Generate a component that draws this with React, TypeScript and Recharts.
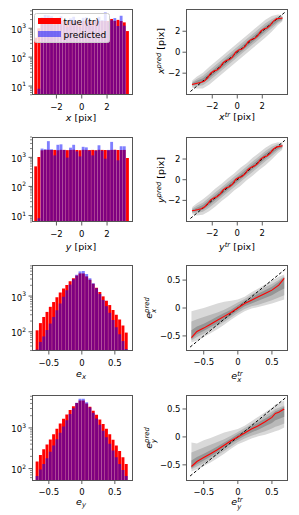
import React from 'react';
import { ComposedChart, Bar, Area, Line, XAxis, YAxis } from 'recharts';

const FONT = '"DejaVu Sans", Verdana, sans-serif';

// ---------------- histogram data ----------------
const XY_BINS = [-3.625, -3.375, -3.125, -2.875, -2.625, -2.375, -2.125, -1.875, -1.625, -1.375, -1.125, -0.875, -0.625, -0.375, -0.125, 0.125, 0.375, 0.625, 0.875, 1.125, 1.375, 1.625, 1.875, 2.125, 2.375, 2.625, 2.875, 3.125, 3.375, 3.625];
const X_TRUE = [470, 1000, 1780, 1820, 1800, 1790, 1830, 1800, 1770, 1810, 1800, 1790, 1820, 1800, 1780, 1810, 1800, 1790, 1820, 1800, 1780, 1810, 1800, 1790, 2100, 1800, 1950, 1800, 1600, 800];
const X_PRED = [null, 8, 2400, 2900, 2800, 2600, 1300, 2300, 2600, 1900, 1100, 2200, 2500, 1800, 1100, 2300, 2400, 1800, 1200, 2000, 2500, 1900, 3500, 1700, 1900, 2250, 1200, 2700, 1230, null];
const Y_TRUE = [490, 1030, 1750, 1800, 1820, 1790, 1800, 1760, 1810, 1800, 1770, 1800, 1820, 1790, 1760, 1810, 1800, 1780, 1800, 1760, 1810, 1800, 1790, 1760, 1800, 1820, 1790, 1770, 1800, 950];
const Y_PRED = [null, 8, 2000, 1900, 3600, 1900, 1170, 2700, 2800, 1800, 980, 2150, 2700, 1600, 1080, 2300, 2200, 1700, 1170, 1700, 2600, 1700, 900, 1800, 3400, 1800, 790, 2400, 2400, null];

const E_BINS = [-0.675, -0.625, -0.575, -0.525, -0.475, -0.425, -0.375, -0.325, -0.275, -0.225, -0.175, -0.125, -0.075, -0.025, 0.025, 0.075, 0.125, 0.175, 0.225, 0.275, 0.325, 0.375, 0.425, 0.475, 0.525, 0.575, 0.625, 0.675];
const EX_TRUE = [110, 175, 260, 360, 500, 680, 930, 1250, 1620, 2050, 2600, 3150, 3750, 4300, 4250, 3550, 2850, 2200, 1700, 1300, 980, 740, 560, 410, 300, 220, 150, 95];
const EX_PRED = [32, 52, 74, 112, 170, 260, 400, 620, 950, 1450, 2100, 2950, 3950, 4900, 5000, 4150, 3150, 2300, 1650, 1150, 780, 520, 340, 215, 135, 85, 55, 33];
const EY_TRUE = [150, 215, 300, 390, 520, 700, 950, 1280, 1680, 2150, 2750, 3400, 4100, 4750, 4700, 4000, 3300, 2650, 2100, 1620, 1250, 950, 700, 510, 370, 270, 190, 130];
const EY_PRED = [66, 95, 130, 180, 260, 370, 530, 760, 1080, 1550, 2200, 3050, 4150, 5200, 5250, 4250, 3200, 2350, 1700, 1200, 850, 590, 410, 280, 190, 130, 92, 66];

// ---------------- scatter-summary data (x, y pixels) ----------------
const X_MEDIAN = [-3.08, -3.0, -2.93, -2.86, -2.75, -2.45, -2.0, -1.8, -1.7, -1.45, -1.0, -0.78, -0.7, -0.45, 0.0, 0.22, 0.3, 0.55, 1.0, 1.22, 1.3, 1.55, 2.0, 2.22, 2.3, 2.55, 2.95, 3.18, 3.22, 3.26];
const Y_MEDIAN = [-3.0, -2.95, -2.88, -2.8, -2.65, -2.35, -1.95, -1.78, -1.65, -1.4, -0.98, -0.78, -0.68, -0.42, 0.02, 0.22, 0.32, 0.58, 1.0, 1.2, 1.32, 1.55, 2.0, 2.2, 2.3, 2.55, 2.95, 3.15, 3.22, 3.28];
const XY_BAND_X = [-3.6, -3.25, -2.75, -2.25, -1.75, -1.25, -0.75, -0.25, 0.25, 0.75, 1.25, 1.75, 2.25, 2.75, 3.25, 3.6];
const X_L_LO = [-3.4, -3.45, -3.45, -3.1, -2.6, -2.1, -1.6, -1.1, -0.6, -0.1, 0.4, 0.9, 1.4, 1.95, 2.6, 2.92];
const X_L_HI = [-2.7, -2.35, -1.95, -1.4, -0.9, -0.4, 0.1, 0.6, 1.1, 1.6, 2.1, 2.6, 3.1, 3.45, 3.6, 3.52];
const X_M_LO = [-3.27, -3.25, -3.15, -2.75, -2.25, -1.75, -1.25, -0.75, -0.25, 0.25, 0.75, 1.25, 1.75, 2.25, 2.78, 3.02];
const X_M_HI = [-2.83, -2.55, -2.25, -1.75, -1.25, -0.75, -0.25, 0.25, 0.75, 1.25, 1.75, 2.25, 2.75, 3.15, 3.42, 3.42];
const X_D_LO = [-3.15, -3.08, -2.92, -2.5, -2.0, -1.5, -1.0, -0.5, 0.0, 0.5, 1.0, 1.5, 2.0, 2.48, 2.94, 3.12];
const X_D_HI = [-2.95, -2.72, -2.48, -2.0, -1.5, -1.0, -0.5, 0.0, 0.5, 1.0, 1.5, 2.0, 2.5, 2.92, 3.26, 3.32];
const Y_L_LO = [-3.35, -3.45, -3.4, -3.05, -2.6, -2.05, -1.6, -1.05, -0.6, -0.05, 0.4, 0.95, 1.4, 1.95, 2.55, 2.9];
const Y_L_HI = [-2.65, -2.3, -1.9, -1.4, -0.85, -0.4, 0.15, 0.6, 1.15, 1.6, 2.15, 2.6, 3.1, 3.45, 3.62, 3.55];
const Y_M_LO = [-3.22, -3.22, -3.1, -2.72, -2.22, -1.72, -1.22, -0.72, -0.22, 0.28, 0.78, 1.28, 1.78, 2.28, 2.8, 3.05];
const Y_M_HI = [-2.78, -2.52, -2.22, -1.72, -1.22, -0.72, -0.22, 0.28, 0.78, 1.28, 1.78, 2.28, 2.78, 3.18, 3.45, 3.45];
const Y_D_LO = [-3.1, -3.05, -2.9, -2.47, -1.97, -1.47, -0.97, -0.47, 0.03, 0.53, 1.03, 1.53, 2.03, 2.5, 2.96, 3.15];
const Y_D_HI = [-2.9, -2.7, -2.45, -1.97, -1.47, -0.97, -0.47, 0.03, 0.53, 1.03, 1.53, 2.03, 2.53, 2.95, 3.28, 3.35];
const XY_DIAG = [-3.75, 3.8];

// ---------------- scatter-summary data (e_x, e_y) ----------------
const EX_GRID = [-0.68, -0.6, -0.5, -0.4, -0.3, -0.2, -0.1, 0, 0.1, 0.2, 0.3, 0.4, 0.5, 0.6, 0.68];
const EX_MEDIAN = [-0.53, -0.42, -0.36, -0.29, -0.22, -0.15, -0.08, 0.0, 0.08, 0.14, 0.2, 0.26, 0.32, 0.41, 0.53];
const EX_L_LO = [-0.62, -0.58, -0.52, -0.45, -0.38, -0.3, -0.21, -0.13, -0.06, -0.01, 0.02, 0.05, 0.08, 0.12, 0.15];
const EX_L_HI = [-0.06, -0.03, 0.0, 0.04, 0.08, 0.11, 0.13, 0.15, 0.2, 0.28, 0.35, 0.42, 0.49, 0.56, 0.6];
const EX_M_LO = [-0.58, -0.52, -0.46, -0.39, -0.32, -0.25, -0.17, -0.09, -0.02, 0.03, 0.06, 0.1, 0.14, 0.19, 0.23];
const EX_M_HI = [-0.24, -0.2, -0.16, -0.12, -0.08, -0.03, 0.03, 0.1, 0.16, 0.24, 0.3, 0.37, 0.43, 0.5, 0.57];
const EX_D_LO = [-0.56, -0.47, -0.41, -0.34, -0.28, -0.21, -0.13, -0.05, 0.03, 0.08, 0.13, 0.18, 0.23, 0.3, 0.35];
const EX_D_HI = [-0.4, -0.33, -0.28, -0.22, -0.15, -0.09, -0.03, 0.05, 0.13, 0.19, 0.26, 0.32, 0.38, 0.47, 0.55];

const EY_GRID = [-0.68, -0.6, -0.5, -0.4, -0.3, -0.2, -0.1, 0, 0.1, 0.2, 0.3, 0.4, 0.5, 0.55, 0.6, 0.68];
const EY_MEDIAN = [-0.53, -0.44, -0.37, -0.3, -0.23, -0.15, -0.07, 0.0, 0.07, 0.14, 0.2, 0.27, 0.35, 0.42, 0.44, 0.5];
const EY_L_LO = [-0.62, -0.58, -0.52, -0.46, -0.38, -0.3, -0.21, -0.13, -0.08, -0.03, 0.01, 0.04, 0.08, 0.1, 0.12, 0.17];
const EY_L_HI = [-0.1, -0.12, -0.06, -0.02, 0.03, 0.08, 0.11, 0.14, 0.2, 0.28, 0.36, 0.44, 0.52, 0.58, 0.6, 0.65];
const EY_M_LO = [-0.58, -0.53, -0.47, -0.4, -0.33, -0.25, -0.17, -0.09, -0.03, 0.02, 0.06, 0.1, 0.15, 0.18, 0.2, 0.24];
const EY_M_HI = [-0.28, -0.24, -0.19, -0.14, -0.09, -0.04, 0.02, 0.09, 0.16, 0.23, 0.3, 0.38, 0.45, 0.5, 0.52, 0.56];
const EY_D_LO = [-0.56, -0.49, -0.42, -0.35, -0.28, -0.2, -0.12, -0.05, 0.02, 0.08, 0.13, 0.19, 0.25, 0.3, 0.32, 0.36];
const EY_D_HI = [-0.42, -0.36, -0.3, -0.24, -0.17, -0.1, -0.03, 0.05, 0.12, 0.19, 0.26, 0.33, 0.4, 0.46, 0.48, 0.54];
const E_DIAG = [-0.7, 0.7];

// ---------------- ticks ----------------
const XY_TICKS = [-2, 0, 2];
const E_TICKS = [-0.5, 0, 0.5];

// ---------------- layout ----------------
const ML = 40, MR = 6, MT = 4, MB = 30;
type Rect = { left: number; top: number; width: number; height: number };
const COL1 = 32, COL1W = 101, COL2 = 185.7, COL2W = 102.3;
const ROWS = [9, 137.3, 265, 395];
const ROWH = [86, 85, 86, 85.5];

const fmt = (v: number) => String(v).replace('-', '\u2212');

const logTicks = (d: number[]) => {
  const out: number[] = [];
  for (let k = Math.floor(Math.log10(d[0])); k <= Math.ceil(Math.log10(d[1])); k++) {
    for (let m = 1; m <= 9; m++) {
      const v = Number((m * Math.pow(10, k)).toPrecision(6));
      if (v >= d[0] && v <= d[1]) out.push(v);
    }
  }
  return out;
};

const XTick = (p: any) => (
  <g>
    <line x1={p.x} x2={p.x} y1={p.y} y2={p.y + 3.5} stroke="#333" strokeWidth={0.8} />
    <text x={p.x} y={p.y + 14.5} textAnchor="middle" fontSize={8.5} fontFamily={FONT} fill="#000">
      {fmt(p.payload.value)}
    </text>
  </g>
);

const YTick = (p: any) => (
  <g>
    <line x1={p.x} x2={p.x - 3.5} y1={p.y} y2={p.y} stroke="#333" strokeWidth={0.8} />
    <text x={p.x - 5.5} y={p.y + 3} textAnchor="end" fontSize={8.5} fontFamily={FONT} fill="#000">
      {fmt(p.payload.value)}
    </text>
  </g>
);

const LogTick = (p: any) => {
  const e = Math.log10(p.payload.value);
  const major = Math.abs(e - Math.round(e)) < 1e-6;
  return (
    <g>
      <line x1={p.x} x2={p.x - (major ? 3.5 : 2)} y1={p.y} y2={p.y} stroke="#333" strokeWidth={major ? 0.8 : 0.6} />
      {major && (
        <text x={p.x - 6} y={p.y + 4.5} textAnchor="end" fontSize={8.5} fontFamily={FONT} fill="#000">
          10
          <tspan dy={-4.5} fontSize={6}>{Math.round(e)}</tspan>
        </text>
      )}
    </g>
  );
};

const Frame = ({ r }: { r: Rect }) => (
  <div style={{ position: 'absolute', left: r.left, top: r.top, width: r.width, height: r.height, border: '1px solid #555', boxSizing: 'border-box', pointerEvents: 'none' }} />
);

function HistPanel({ r, bins, tru, pred, xDomain, yDomain, xTicks }: any) {
  const data = bins.map((c: number, i: number) => ({ c, tru: tru[i], pred: pred[i] }));
  const W = r.width + ML + MR, H = r.height + MT + MB;
  const span = xDomain[1] - xDomain[0];
  const barSize = ((bins[1] - bins[0]) / span) * r.width;
  return (
    <>
      <div style={{ position: 'absolute', left: r.left - ML, top: r.top - MT, width: W, height: H }}>
        <ComposedChart width={W} height={H} data={data} margin={{ top: MT, right: MR, left: 0, bottom: 0 }} barCategoryGap={0} barGap={0}>
          <XAxis xAxisId="b" dataKey="c" type="number" domain={xDomain} allowDataOverflow hide height={0} />
          <XAxis xAxisId="r" dataKey="c" type="number" domain={xDomain} allowDataOverflow ticks={xTicks} interval={0} height={MB}
            tickSize={0} tickMargin={0} tickLine={false} axisLine={false} tick={(p: any) => <XTick {...p} />} />
          <YAxis yAxisId="l" type="number" scale="log" domain={yDomain} allowDataOverflow ticks={logTicks(yDomain)} interval={0}
            width={ML} tickSize={0} tickMargin={0} tickLine={false} axisLine={false} tick={(p: any) => <LogTick {...p} />} />
          <Bar xAxisId="r" yAxisId="l" dataKey="tru" fill="#ff0000" barSize={barSize} isAnimationActive={false} />
          <Bar xAxisId="b" yAxisId="l" dataKey="pred" fill="#0000ff" fillOpacity={0.5} barSize={barSize} isAnimationActive={false} />
        </ComposedChart>
      </div>
      <Frame r={r} />
    </>
  );
}

const bandTable = (xs: number[], a: number[], b: number[], c: number[], d: number[], e: number[], f: number[]) =>
  xs.map((x, i) => ({ x, L: [a[i], b[i]], M: [c[i], d[i]], D: [e[i], f[i]] }));
const lineTable = (xs: number[], ys: number[]) => xs.map((x, i) => ({ x, y: ys[i] }));

function ScatterPanel({ r, bands, median, diag, xDomain, yDomain, ticks }: any) {
  const W = r.width + ML + MR, H = r.height + MT + MB;
  return (
    <>
      <div style={{ position: 'absolute', left: r.left - ML, top: r.top - MT, width: W, height: H }}>
        <ComposedChart width={W} height={H} margin={{ top: MT, right: MR, left: 0, bottom: 0 }}>
          <XAxis dataKey="x" type="number" domain={xDomain} allowDataOverflow ticks={ticks} interval={0} height={MB}
            tickSize={0} tickMargin={0} tickLine={false} axisLine={false} tick={(p: any) => <XTick {...p} />} />
          <YAxis type="number" domain={yDomain} allowDataOverflow ticks={ticks} interval={0} width={ML}
            tickSize={0} tickMargin={0} tickLine={false} axisLine={false} tick={(p: any) => <YTick {...p} />} />
          <Area data={bands} dataKey="L" type="linear" fill="#d9d9d9" fillOpacity={1} stroke="none" isAnimationActive={false} dot={false} activeDot={false} />
          <Area data={bands} dataKey="M" type="linear" fill="#b9b9b9" fillOpacity={1} stroke="none" isAnimationActive={false} dot={false} activeDot={false} />
          <Area data={bands} dataKey="D" type="linear" fill="#959595" fillOpacity={1} stroke="none" isAnimationActive={false} dot={false} activeDot={false} />
          <Line data={diag} dataKey="y" type="linear" stroke="#000" strokeWidth={1} strokeDasharray="3 2" dot={false} activeDot={false} isAnimationActive={false} />
          <Line data={median} dataKey="y" type="linear" stroke="#ff0000" strokeWidth={1.1} dot={false} activeDot={false} isAnimationActive={false} />
        </ComposedChart>
      </div>
      <Frame r={r} />
    </>
  );
}

const lab: React.CSSProperties = { position: 'absolute', fontFamily: FONT, fontSize: 9.5, color: '#000', whiteSpace: 'nowrap', lineHeight: 1 };
const Sup = ({ t }: { t: string }) => <span style={{ fontSize: '0.72em', verticalAlign: '0.45em', fontStyle: 'italic' }}>{t}</span>;
const Sub = ({ t }: { t: string }) => <span style={{ fontSize: '0.72em', verticalAlign: '-0.3em', fontStyle: 'italic' }}>{t}</span>;
const SupSub = ({ sup, sub }: { sup: string; sub: string }) => (
  <span style={{ display: 'inline-flex', flexDirection: 'column', fontSize: '0.72em', lineHeight: 1, verticalAlign: '0.42em', fontStyle: 'italic' }}>
    <span>{sup}</span>
    <span>{sub}</span>
  </span>
);
const Label = ({ x, y, rot, children }: any) => (
  <div style={{ ...lab, left: x, top: y, transform: `translate(-50%,-50%)${rot ? ' rotate(-90deg)' : ''}` }}>{children}</div>
);

export default function App() {
  const r = (c: number, row: number): Rect => ({ left: c === 0 ? COL1 : COL2, top: ROWS[row], width: c === 0 ? COL1W : COL2W, height: ROWH[row] });
  return (
    <div style={{ position: 'absolute', left: 0, top: 0, width: 299, height: 515, background: '#fff', overflow: 'hidden' }}>
      <HistPanel r={r(0, 0)} bins={XY_BINS} tru={X_TRUE} pred={X_PRED} xDomain={[-3.93, 4.05]} yDomain={[4.9, 4640]} xTicks={XY_TICKS} />
      <HistPanel r={r(0, 1)} bins={XY_BINS} tru={Y_TRUE} pred={Y_PRED} xDomain={[-3.93, 4.05]} yDomain={[6.0, 5000]} xTicks={XY_TICKS} />
      <HistPanel r={r(0, 2)} bins={E_BINS} tru={EX_TRUE} pred={EX_PRED} xDomain={[-0.755, 0.775]} yDomain={[29, 7400]} xTicks={E_TICKS} />
      <HistPanel r={r(0, 3)} bins={E_BINS} tru={EY_TRUE} pred={EY_PRED} xDomain={[-0.755, 0.775]} yDomain={[51, 6450]} xTicks={E_TICKS} />

      <ScatterPanel r={r(1, 0)} bands={bandTable(XY_BAND_X, X_L_LO, X_L_HI, X_M_LO, X_M_HI, X_D_LO, X_D_HI)} median={lineTable(XY_BINS, X_MEDIAN)}
        diag={lineTable(XY_DIAG, XY_DIAG)} xDomain={[-4.1, 4.08]} yDomain={[-4.08, 4.12]} ticks={XY_TICKS} />
      <ScatterPanel r={r(1, 1)} bands={bandTable(XY_BAND_X, Y_L_LO, Y_L_HI, Y_M_LO, Y_M_HI, Y_D_LO, Y_D_HI)} median={lineTable(XY_BINS, Y_MEDIAN)}
        diag={lineTable(XY_DIAG, XY_DIAG)} xDomain={[-4.1, 4.08]} yDomain={[-4.09, 4.13]} ticks={XY_TICKS} />
      <ScatterPanel r={r(1, 2)} bands={bandTable(EX_GRID, EX_L_LO, EX_L_HI, EX_M_LO, EX_M_HI, EX_D_LO, EX_D_HI)} median={lineTable(EX_GRID, EX_MEDIAN)}
        diag={lineTable(E_DIAG, E_DIAG)} xDomain={[-0.76, 0.74]} yDomain={[-0.77, 0.77]} ticks={E_TICKS} />
      <ScatterPanel r={r(1, 3)} bands={bandTable(EY_GRID, EY_L_LO, EY_L_HI, EY_M_LO, EY_M_HI, EY_D_LO, EY_D_HI)} median={lineTable(EY_GRID, EY_MEDIAN)}
        diag={lineTable(E_DIAG, E_DIAG)} xDomain={[-0.76, 0.74]} yDomain={[-0.78, 0.75]} ticks={E_TICKS} />

      {/* legend */}
      <div style={{ position: 'absolute', left: 33.5, top: 13, width: 76.5, height: 30, background: 'rgba(255,255,255,0.8)', border: '1px solid #cccccc', borderRadius: 2.5, boxSizing: 'border-box', fontFamily: FONT, fontSize: 9, lineHeight: 1 }}>
        <div style={{ position: 'absolute', left: 3.5, top: 3.8, width: 23, height: 6.7, background: '#ff0000' }} />
        <div style={{ position: 'absolute', left: 29, top: 7.5, transform: 'translateY(-50%)', whiteSpace: 'nowrap' }}>true (tr)</div>
        <div style={{ position: 'absolute', left: 3.5, top: 16.5, width: 23, height: 6.5, background: 'rgba(0,0,255,0.5)' }} />
        <div style={{ position: 'absolute', left: 29, top: 20.5, transform: 'translateY(-50%)', whiteSpace: 'nowrap' }}>predicted</div>
      </div>

      {/* x-axis labels */}
      <Label x={81} y={118}><i>x</i> [pix]</Label>
      <Label x={237} y={117}><i>x</i><Sup t="tr" /> [pix]</Label>
      <Label x={81} y={247}><i>y</i> [pix]</Label>
      <Label x={237} y={247}><i>y</i><Sup t="tr" /> [pix]</Label>
      <Label x={81} y={375}><i>e</i><Sub t="x" /></Label>
      <Label x={237} y={377.5}><i>e</i><SupSub sup="tr" sub="x" /></Label>
      <Label x={81} y={503}><i>e</i><Sub t="y" /></Label>
      <Label x={237} y={504}><i>e</i><SupSub sup="tr" sub="y" /></Label>

      {/* y-axis labels */}
      <Label x={160.5} y={51} rot><i>x</i><Sup t="pred" /> [pix]</Label>
      <Label x={160.5} y={180} rot><i>y</i><Sup t="pred" /> [pix]</Label>
      <Label x={151} y={308} rot><i>e</i><SupSub sup="pred" sub="x" /></Label>
      <Label x={151} y={438} rot><i>e</i><SupSub sup="pred" sub="y" /></Label>
    </div>
  );
}
